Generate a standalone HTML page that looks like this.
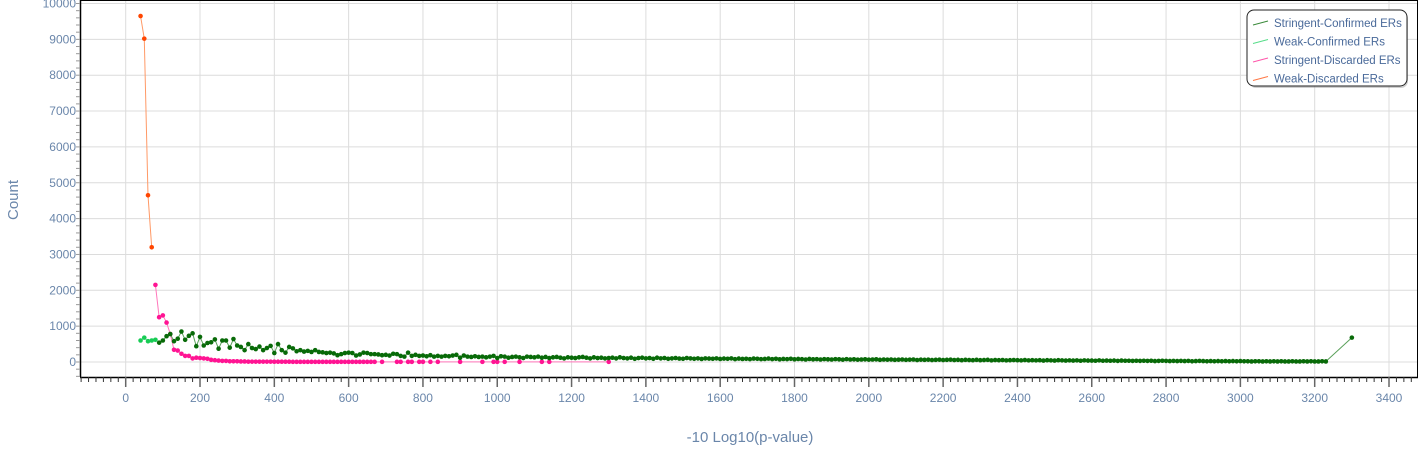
<!DOCTYPE html>
<html><head><meta charset="utf-8"><style>
body{margin:0;background:#fff;}
svg text{font-family:"Liberation Sans",sans-serif;}
</style></head><body>
<svg id="c" width="1418" height="447" xmlns="http://www.w3.org/2000/svg"></svg>
<script>
const xTicks=[0,200,400,600,800,1000,1200,1400,1600,1800,2000,2200,2400,2600,2800,3000,3200,3400];
const yTicks=[0,1000,2000,3000,4000,5000,6000,7000,8000,9000,10000];
const weakDiscX=[40,50,60,70];
const weakDiscY=[9650,9020,4650,3200];
const weakConfX=[40,50,60,70,80];
const weakConfY=[600,680,580,600,620];
const strDiscX=[80,90,100,110,120,130,140,150,160,170,180,190,200,210,220,230,240,250,260,270,280,290,300,310,320,330,340,350,360,370,380,390,400,410,420,430,440,450,460,470,480,490,500,510,520,530,540,550,560,570,580,590,600,610,620,630,640,650,660,670,690,730,740,760,770,790,800,820,840,900,960,990,1000,1020,1060,1120,1140,1300];
const strDiscY=[2150,1250,1300,1100,780,340,320,230,170,170,100,120,110,100,90,60,50,40,30,30,20,20,20,15,15,10,10,10,10,10,10,10,8,8,8,8,8,5,5,5,5,5,5,5,5,5,5,5,5,5,5,5,5,5,5,5,5,5,5,5,5,5,5,5,5,5,5,5,5,5,5,5,5,5,5,5,5,5];
const strConfStart=90, strConfStep=10;
const strConfY=[
540,600,720,780,580,650,850,620,730,800,440,
700,460,530,550,630,370,600,600,400,640,
460,420,330,500,390,360,430,330,390,450,
250,500,330,260,420,380,300,330,290,310,
280,330,280,270,250,260,240,190,220,250,
260,250,180,210,260,250,220,220,210,190,
200,180,230,220,170,150,260,170,200,170,
180,160,190,150,170,150,170,160,180,200,
120,180,150,140,160,140,150,130,150,170,
110,160,150,120,140,150,130,110,150,140,
130,150,120,140,110,130,140,120,100,130,
120,110,130,140,120,100,130,110,120,100,
110,120,100,130,110,100,120,90,110,120,
100,110,90,120,100,110,90,100,110,95,
90,110,100,90,100,85,100,95,90,100,
85,95,90,100,80,95,85,90,80,95,
90,80,85,95,80,90,75,85,80,90,
75,85,80,70,85,75,80,70,80,75,
70,80,75,65,80,70,75,65,70,75,
65,70,75,60,70,65,70,60,65,70,
60,65,70,55,65,60,65,55,60,65,
55,60,65,55,60,50,60,55,50,60,
50,55,60,45,55,50,55,45,50,55,
50,45,55,45,50,45,50,40,50,45,
40,50,45,40,45,40,45,35,45,40,
40,35,45,35,40,35,40,30,40,35,
35,30,35,30,35,30,35,25,30,35,
30,25,30,25,30,25,30,20,25,30,
25,20,25,20,25,20,25,20,25,20,
25,20,20,15,20,20,15,20,15,20,
15,20,15,15,20,15,15,20,15,20,
15,15,20,15,
680];
const svg=document.getElementById('c');
const NS='http://www.w3.org/2000/svg';
const L=80,R=1418,T=0,B=377;
const xs=v=>125.7+v*0.37156;
const ys=v=>362-v*0.03585;
function el(tag,attrs,parent){const e=document.createElementNS(NS,tag);for(const k in attrs)e.setAttribute(k,attrs[k]);(parent||svg).appendChild(e);return e;}
const grid=el('g',{});


xTicks.forEach(t=>{el('line',{x1:xs(t),x2:xs(t),y1:T,y2:B,stroke:'#dcdcdc','stroke-width':1},grid);});
yTicks.forEach(t=>{el('line',{x1:L,x2:R,y1:ys(t),y2:ys(t),stroke:'#dcdcdc','stroke-width':1},grid);});
const ax=el('g',{});


el('line',{x1:L+0.5,x2:L+0.5,y1:0,y2:B,stroke:'#000','stroke-width':1.5},ax);
el('line',{x1:L,x2:R,y1:B+0.5,y2:B+0.5,stroke:'#000','stroke-width':1.5},ax);
el('line',{x1:R-0.5,x2:R-0.5,y1:0,y2:B,stroke:'#000','stroke-width':1},ax);
el('line',{x1:L,x2:R,y1:0.5,y2:0.5,stroke:'#000','stroke-width':1},ax);
for(let v=-120;v<=3480;v+=20){const x=xs(v);if(x<L||x>R)continue;const maj=v%200===0;el('line',{x1:x,x2:x,y1:B,y2:B+(maj?10:5),stroke:maj?'#666':'#333','stroke-width':maj?1.5:1},ax);}
for(let v=-400;v<=10000;v+=200){const y=ys(v);if(y>B||y<0)continue;el('line',{x1:L-4,x2:L,y1:y,y2:y,stroke:'#999','stroke-width':1},ax);}
xTicks.forEach(t=>{const tx=el('text',{x:xs(t),y:402,'text-anchor':'middle','font-size':12,fill:'#6a86aa'},ax);tx.textContent=t;});
yTicks.forEach(t=>{const tx=el('text',{x:76,y:ys(t)+4,'text-anchor':'end','font-size':12,fill:'#6a86aa'},ax);tx.textContent=t;});
const xt=el('text',{x:750,y:442,'text-anchor':'middle','font-size':15,fill:'#6a86aa'});


xt.textContent='-10 Log10(p-value)';
const yt=el('text',{x:18,y:200,'text-anchor':'middle','font-size':15,fill:'#6a86aa',transform:'rotate(-90 18 200)'});


yt.textContent='Count';
function series(name,X,Y,line,dot){
 const g=el('g',{});
 
 
 el('polyline',{points:X.map((x,i)=>xs(x)+','+ys(Y[i])).join(' '),fill:'none',stroke:line,'stroke-width':1},g);
 X.forEach((x,i)=>{const c=el('circle',{cx:xs(x),cy:ys(Y[i]),r:2.3,fill:dot},g);
 
 });
}
const scX=strConfY.map((v,i)=>i===strConfY.length-1?3300:strConfStart+i*strConfStep);
series('stringent-discarded-series',strDiscX,strDiscY,'#ff77bb','#ff1493');
series('stringent-confirmed-series',scX,strConfY,'#5aa05a','#086a08');
series('weak-confirmed-series',weakConfX,weakConfY,'#66dd99','#18cc55');
series('weak-discarded-series',weakDiscX,weakDiscY,'#ff9966','#ff4500');
const lg=el('g',{});


el('rect',{x:1249,y:12,width:159,height:76,rx:7,fill:'#888',opacity:0.4},lg);
el('rect',{x:1247,y:10,width:160,height:76,rx:7,fill:'#fff',stroke:'#222','stroke-width':1},lg);
const items=[['Stringent-Confirmed ERs','#3a8a3a'],['Weak-Confirmed ERs','#55dd88'],['Stringent-Discarded ERs','#ff55aa'],['Weak-Discarded ERs','#ff7744']];
items.forEach((it,i)=>{const y=23+i*18.5;
 const e=el('g',{},lg);
 
 
 el('line',{x1:1253,x2:1268,y1:y+2,y2:y-2,stroke:it[1],'stroke-width':1},e);
 const t=el('text',{x:1274,y:y+4,'font-size':11.5,fill:'#4a6a9a'},e);t.textContent=it[0];});
</script>
</body></html>
